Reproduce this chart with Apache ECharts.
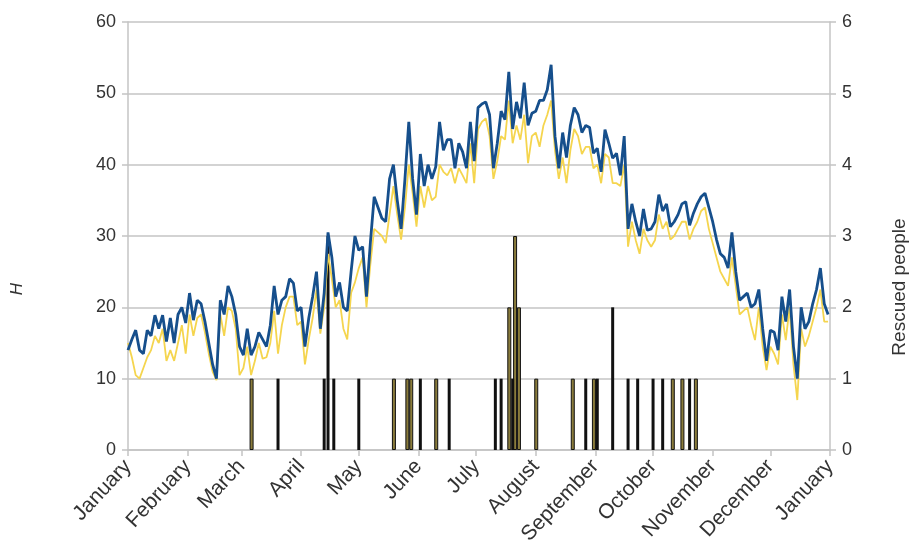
<!DOCTYPE html>
<html>
<head>
<meta charset="utf-8">
<script src="https://cdn.jsdelivr.net/npm/echarts@6/dist/echarts.min.js"></script>
<style>
  html, body { margin: 0; padding: 0; background: #ffffff; }
  #chart { width: 914px; height: 560px; }
</style>
</head>
<body>
<div id="chart"></div>
<script>
// Month boundaries (day of year) and their labels
const monthStarts = [0, 31, 59, 90, 120, 151, 181, 212, 243, 273, 304, 334, 365];
const monthNames = ['January', 'February', 'March', 'April', 'May', 'June', 'July',
  'August', 'September', 'October', 'November', 'December', 'January'];

// Sampling days for the two H curves (every second day)
const days = [];
for (let d = 0; d <= 364; d += 2) days.push(d);

// H, upper curve (dark blue)
const hBlue = [
  14, 15.5, 16.8, 14, 13.5, 16.8, 16, 18.9, 17, 18.9,
  15.2, 18.5, 15, 19, 20, 17.8, 22, 18.2, 21, 20.5,
  18, 15, 12, 10, 21, 19, 23, 21.5, 19, 14.5,
  13.3, 17, 13.3, 14.5, 16.5, 15.5, 14.5, 17.5, 23, 19,
  21, 21.5, 24, 23.4, 19.5, 20, 14.5, 18.5, 21.5, 25,
  17, 22, 30.5, 27, 21.5, 23.5, 20, 19.5, 25, 30,
  28, 28.5, 21.5, 29, 35.5, 34, 32.5, 32, 38, 40,
  35, 31, 38, 46, 38, 33, 41.5, 37, 40, 38,
  39.7, 46, 42, 43.5, 43.5, 39.5, 43, 41.8, 39.5, 46,
  40.5, 48, 48.5, 48.8, 47, 39.5, 43, 47.5, 46.3, 53,
  45, 48.8, 46.5, 51.5, 45.5, 47.2, 47.5, 49, 49, 50.5,
  54, 44, 39.5, 44.5, 41, 45.5, 48, 47, 44.5, 45.5,
  45.2, 41.6, 42.3, 39, 44.9, 43, 40.9, 41.6, 38.5, 44,
  31, 34.5, 32, 30, 33.8, 30.8, 31, 32, 35.8, 33.5,
  34.5, 31.3, 32, 33, 34.5, 34.8, 31.5, 33.2, 34.5, 35.5,
  36, 34, 32, 29.5, 27.5, 27, 25.5, 30.5, 25, 21,
  21.5, 22, 20, 20.5, 22.5, 17, 12.5, 16.8, 16.5, 14,
  21.5, 18, 22.5, 14.5, 10, 20, 17, 18, 20.5, 22.5,
  25.5, 20.5, 19
];

// H, lower curve (yellow)
const hYellow = [
  15, 13, 10.5, 10, 11.5, 13, 14, 16, 15, 17,
  12.5, 14, 12.5, 15, 17.5, 13.5, 19, 16, 18.5, 19,
  16.5, 13.5, 11, 9.8, 19, 16, 20, 19.5, 17, 10.5,
  11.5, 14.5, 10.5, 12.5, 15, 12.8, 13, 15, 19.5, 13.5,
  17.5, 20, 21.5, 21.5, 17.5, 18, 12, 15.5, 18.5, 22.5,
  16.3, 20, 27.5, 24, 20, 21, 17, 15.5, 22, 23.5,
  25.5, 27, 20, 26, 31, 30.5, 30, 29, 33, 37,
  33, 29.5, 34, 40, 36, 31.3, 37, 34, 37, 35,
  35.5, 40, 39, 38.5, 39.5, 37.4, 39.5, 38.5, 37.4, 43,
  37.4, 45, 46, 46.5, 44, 38, 40.5, 44, 43.5, 49,
  43, 45.5, 43.5, 47, 40.2, 44, 44.5, 42.5, 45.5, 47,
  49, 42, 38, 41, 37.4, 42, 45, 44, 41.5, 42.5,
  42.5, 39.5, 40, 37.4, 41.5, 41, 37.4, 37.4, 37, 40,
  28.5, 32, 29.4, 27.5, 31, 29.4, 28.5, 29.4, 33, 31,
  32, 29.5, 30, 31, 32, 32, 29.5, 31, 32, 33.5,
  34, 31, 29, 27, 25, 24, 23, 27, 23, 19,
  19.5, 20, 17.5, 15.4, 20, 14.5, 11.2, 14.5, 13.5, 12,
  19, 15.4, 20, 12, 7, 17, 14.5, 16, 18, 20,
  22.5, 18, 18
];

// Rescued people: day of year and count, two groups
const rescueDaysA = [64, 138, 145, 147, 160, 198, 201, 203, 212, 231, 242, 283, 288, 295];
const rescueCountA = [1, 1, 1, 1, 1, 2, 3, 2, 1, 1, 1, 1, 1, 1];
const rescueDaysB = [78, 102, 104, 107, 120, 152, 167, 191, 194, 200, 238, 244, 252, 260, 265, 273, 278, 292];
const rescueCountB = [1, 1, 3, 1, 1, 1, 1, 1, 1, 1, 1, 1, 2, 1, 1, 1, 1, 1];

const leftTicks = [0, 10, 20, 30, 40, 50, 60];

const pair = (xs, ys) => xs.map((x, i) => [x, ys[i]]);

const chart = echarts.init(document.getElementById('chart'), null, { renderer: 'canvas' });

const textColor = '#333333';
const gridColor = '#c4c4c4';
const font = '"Liberation Sans", Arial, sans-serif';

chart.setOption({
  animation: false,
  backgroundColor: '#ffffff',
  grid: { left: 128, right: 84, top: 22, bottom: 110, containLabel: false },
  xAxis: {
    type: 'value',
    min: 0,
    max: 365,
    splitLine: { show: false },
    axisLine: { show: true, lineStyle: { color: gridColor, width: 1.5 } },
    axisTick: {
      show: true, length: 6, inside: false,
      customValues: monthStarts,
      lineStyle: { color: gridColor, width: 1.5 }
    },
    axisLabel: {
      customValues: monthStarts,
      rotate: 47,
      margin: 13,
      fontFamily: font,
      fontSize: 21,
      color: textColor,
      formatter: function (v) {
        const i = monthStarts.indexOf(Math.round(v));
        return i >= 0 ? monthNames[i] : '';
      }
    }
  },
  yAxis: [
    {
      type: 'value',
      min: 0, max: 60, interval: 10,
      position: 'left',
      axisLine: { show: true, lineStyle: { color: gridColor, width: 1.5 } },
      axisTick: { show: true, length: 6, lineStyle: { color: gridColor, width: 1.5 } },
      splitLine: { show: true, lineStyle: { color: gridColor, width: 1.5 } },
      axisLabel: {
        margin: 12, fontFamily: font, fontSize: 18, color: textColor,
        formatter: v => leftTicks.includes(v) ? String(v) : ''
      }
    },
    {
      type: 'value',
      min: 0, max: 6, interval: 1,
      position: 'right',
      axisLine: { show: true, lineStyle: { color: gridColor, width: 1.5 } },
      axisTick: { show: true, length: 6, lineStyle: { color: gridColor, width: 1.5 } },
      splitLine: { show: false },
      axisLabel: { margin: 12, fontFamily: font, fontSize: 18, color: textColor }
    }
  ],
  graphic: [
    {
      type: 'text', x: 17, y: 289, rotation: Math.PI / 2,
      style: {
        text: 'H', fontFamily: font, fontStyle: 'italic', fontSize: 17, fill: textColor,
        align: 'center', verticalAlign: 'middle'
      }
    },
    {
      type: 'text', x: 900, y: 287, rotation: Math.PI / 2,
      style: {
        text: 'Rescued people', fontFamily: font, fontSize: 19, fill: textColor,
        align: 'center', verticalAlign: 'middle'
      }
    }
  ],
  series: [
    {
      name: 'Rescued A',
      type: 'bar',
      yAxisIndex: 1,
      barWidth: 4,
      barGap: '-100%',
      z: 1,
      itemStyle: { color: '#8a7c3c', borderColor: '#111111', borderWidth: 1 },
      data: pair(rescueDaysA, rescueCountA)
    },
    {
      name: 'Rescued B',
      type: 'bar',
      yAxisIndex: 1,
      barWidth: 3,
      barGap: '-100%',
      z: 1,
      itemStyle: { color: '#111111' },
      data: pair(rescueDaysB, rescueCountB)
    },
    {
      name: 'H lower',
      type: 'line',
      yAxisIndex: 0,
      showSymbol: false,
      z: 3,
      lineStyle: { color: '#f5d54e', width: 1.8 },
      data: pair(days, hYellow)
    },
    {
      name: 'H upper',
      type: 'line',
      yAxisIndex: 0,
      showSymbol: false,
      z: 4,
      lineStyle: { color: '#164f8c', width: 2.8 },
      data: pair(days, hBlue)
    }
  ]
});
</script>
</body>
</html>
